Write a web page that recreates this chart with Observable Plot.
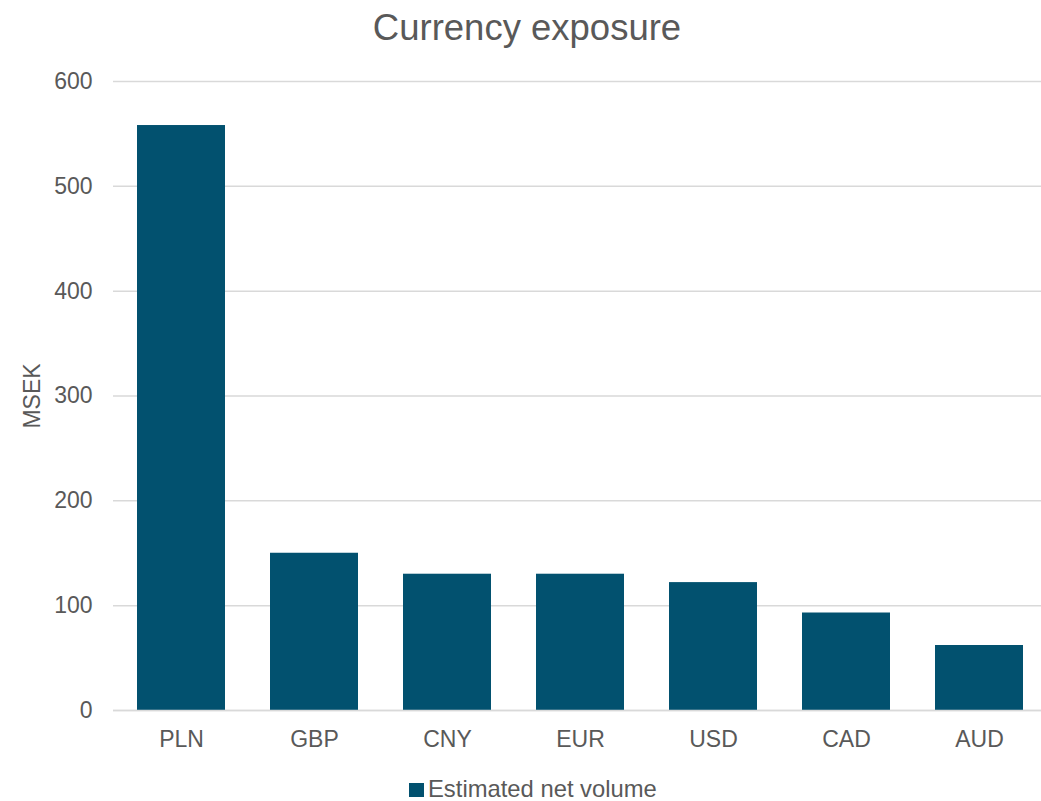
<!DOCTYPE html>
<html>
<head>
<meta charset="utf-8">
<script src="https://cdn.jsdelivr.net/npm/d3@7"></script>
<script src="https://cdn.jsdelivr.net/npm/@observablehq/plot@0.6"></script>
<style>
  html, body { margin: 0; padding: 0; background: #fff; overflow: hidden; }
  #wrap { position: relative; width: 1041px; height: 801px; font-family: "Liberation Sans", Arial, sans-serif; color: #595959; }
  #title { position: absolute; top: 10px; left: 0; width: 1054px; text-align: center; font-size: 36.5px; line-height: 36.5px; white-space: nowrap; }
  #chart { position: absolute; top: 0; left: 0; }
  #legend { position: absolute; top: 777px; left: 409px; font-size: 23.8px; line-height: 23.8px; white-space: nowrap; }
  #legend .sw { position: absolute; left: 0; top: 6px; width: 15px; height: 14px; background: #02516f; }
  #legend .lbl { position: absolute; left: 19px; top: 0; }
</style>
</head>
<body>
<div id="wrap">
  <div id="chart"></div>
  <div id="title">Currency exposure</div>
  <div id="legend"><span class="sw"></span><span class="lbl" id="legendLabel"></span></div>
</div>
<script>
const currencies = ["PLN", "GBP", "CNY", "EUR", "USD", "CAD", "AUD"];
const volumes = [558, 150, 130, 130, 122, 93, 62];
const yTicks = [0, 100, 200, 300, 400, 500, 600];
const seriesName = "Estimated net volume";
const barColor = "#02516f";

document.getElementById("legendLabel").textContent = seriesName;

const data = currencies.map((c, i) => ({currency: c, value: volumes[i]}));

const chart = Plot.plot({
  width: 1041,
  height: 760,
  marginTop: 81,
  marginBottom: 50,
  marginLeft: 113,
  marginRight: 0,
  style: {fontFamily: "'Liberation Sans', Arial, sans-serif", fontSize: "23px", color: "#595959", background: "#fff", overflow: "hidden"},
  x: {domain: currencies, paddingInner: 0.335, paddingOuter: 0.165, range: [113, 1047]},
  y: {domain: [0, 600]},
  marks: [
    Plot.gridY(yTicks, {stroke: "#d9d9d9", strokeOpacity: 1, strokeWidth: 1.5}),
    Plot.barY(data, {x: "currency", y: "value", fill: barColor}),
    Plot.ruleY([0], {stroke: "#d9d9d9", strokeWidth: 1.5}),
    Plot.axisX({tickSize: 0, tickPadding: 20, label: null, fontSize: 23}),
    Plot.axisY(yTicks, {tickSize: 0, tickPadding: 21, label: "MSEK", labelAnchor: "center", labelOffset: 90, labelArrow: "none", fontSize: 23})
  ]
});
document.getElementById("chart").appendChild(chart);
</script>
</body>
</html>
